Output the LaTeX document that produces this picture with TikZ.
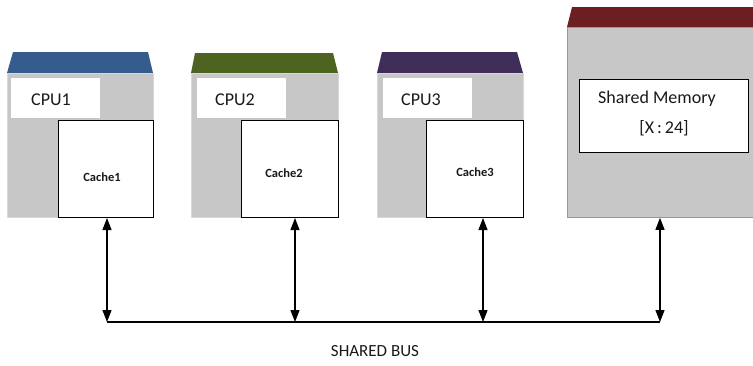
\documentclass[tikz,border=0pt]{standalone}
\usepackage{fontspec}
\setmainfont{Carlito}
\usetikzlibrary{arrows.meta}
\definecolor{bodygray}{RGB}{199,199,199}
\definecolor{capblue}{RGB}{52,92,140}
\definecolor{capgreen}{RGB}{78,98,34}
\definecolor{cappurple}{RGB}{62,46,88}
\definecolor{capred}{RGB}{108,30,32}
\definecolor{edgegray}{RGB}{215,215,220}
\definecolor{edgered}{RGB}{185,140,140}
\definecolor{txt}{RGB}{25,25,25}
\tikzset{
  body/.style={draw=edgegray, line width=0.8pt, fill=bodygray, rectangle, anchor=north west, inner sep=0pt},
  lbl/.style={fill=white, rectangle, anchor=north west, inner sep=0pt, minimum width=89pt, minimum height=40pt},
  cache/.style={draw=black, line width=1pt, fill=white, rectangle, anchor=north west, inner sep=0pt, minimum width=95pt, minimum height=97pt},
  cputxt/.style={text=txt, font=\fontsize{18}{20}\selectfont, inner sep=0pt},
  cachetxt/.style={text=txt, font=\bfseries\fontsize{12.5}{14}\selectfont, inner sep=0pt},
  bigtxt/.style={text=txt, font=\fontsize{18}{20}\selectfont, inner sep=0pt},
  arr/.style={line width=1.2pt, {Triangle[width=9pt,length=12pt]}-{Triangle[width=9pt,length=12pt]}},
  bus/.style={line width=1.2pt}
}
\begin{document}
\begin{tikzpicture}[x=1pt,y=-1pt]
\useasboundingbox (0,0) rectangle (753,365);
% CPU1
\fill[capblue] (7,73) -- (13,52) -- (148,52) -- (153,73) -- cycle;
\node[body, minimum width=146pt, minimum height=144pt] (cpu1) at (7,73) {};
\node[lbl] (l1) at (11,78) {};
\node[cputxt] (t1) at (51,100) {CPU1};
\node[cache] (c1) at (58,120) {};
\node[cachetxt] (ct1) at (102,177) {Cache1};
% CPU2
\fill[capgreen] (191,73) -- (195,53) -- (333,53) -- (338,73) -- cycle;
\node[body, minimum width=147pt, minimum height=144pt] (cpu2) at (191,73) {};
\node[lbl] (l2) at (197,78) {};
\node[cputxt] (t2) at (235,100) {CPU2};
\node[cache, minimum width=97pt] (c2) at (241,120) {};
\node[cachetxt] (ct2) at (284,173) {Cache2};
% CPU3
\fill[cappurple] (377,73) -- (382,52) -- (517,52) -- (523,73) -- cycle;
\node[body, minimum width=146pt, minimum height=144pt] (cpu3) at (377,73) {};
\node[lbl] (l3) at (383,78) {};
\node[cputxt] (t3) at (421,100) {CPU3};
\node[cache, minimum width=97pt] (c3) at (426,120) {};
\node[cachetxt] (ct3) at (475,172) {Cache3};
% Shared memory
\fill[capred] (567,27) -- (572,7) -- (753,7) -- (753,27) -- cycle;
\node[body, draw=edgered, minimum width=190pt, minimum height=190pt] (mem) at (567,27) {};
\node[draw=black, line width=1pt, fill=white, rectangle, anchor=north west, inner sep=0pt, minimum width=169pt, minimum height=73pt] (mbox) at (579,79) {};
\node[bigtxt] (mt1) at (657,99) {Shared Memory};
\node[bigtxt] (mt2) at (664,128) {[X\,:\,24]};
% bus
\coordinate (b1) at (107,322);
\coordinate (b2) at (295,322);
\coordinate (b3) at (483,322);
\coordinate (b4) at (660,322);
\draw[bus] (b1) -- (b4);
\draw[arr] (b1 |- c1.south) -- (b1);
\draw[arr] (b2 |- c2.south) -- (b2);
\draw[arr] (b3 |- c3.south) -- (b3);
\draw[arr] (b4 |- mem.south) -- (b4);
\node[bigtxt, font=\fontsize{17}{19}\selectfont] (busl) at (375,351) {SHARED BUS};
\end{tikzpicture}
\end{document}
